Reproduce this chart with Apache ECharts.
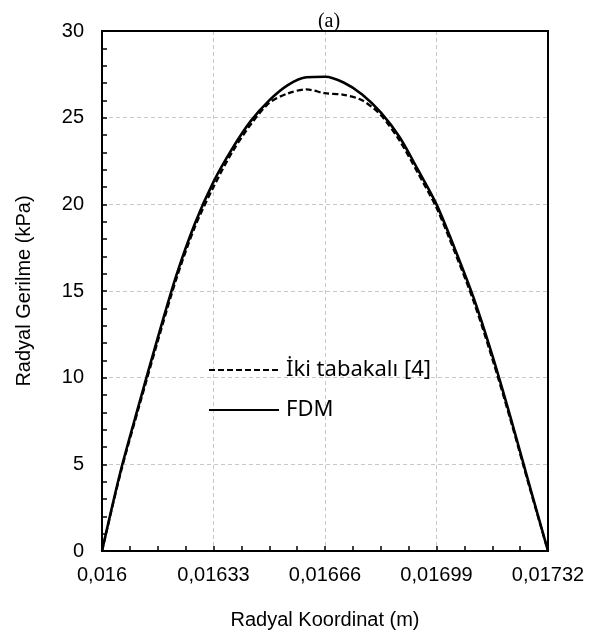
<!DOCTYPE html>
<html>
<head>
<meta charset="utf-8">
<script src="https://cdn.jsdelivr.net/npm/echarts@6/dist/echarts.min.js"></script>
<style>html,body{margin:0;padding:0;background:#fff}#c{width:589px;height:642px}</style>
</head>
<body>
<div id="c"></div>
<script>
// Radial coordinate (m)
const radialCoord = [0.016, 0.016055, 0.01611, 0.016165, 0.01622, 0.016275, 0.01633, 0.016385, 0.01644, 0.016495, 0.01655, 0.016605, 0.01666, 0.016715, 0.01677, 0.016825, 0.01688, 0.016935, 0.01699, 0.017045, 0.0171, 0.017155, 0.01721, 0.017265, 0.01732];
// Radial stress (kPa) - FDM
const fdmValues = [0, 4.6, 8.5, 12.3, 15.9, 18.9, 21.3, 23.2, 24.8, 26.0, 26.88, 27.33, 27.36, 27.03, 26.34, 25.3, 23.9, 22.0, 20.0, 17.4, 14.6, 11.3, 7.65, 3.8, 0];
// Radial stress (kPa) - two-layer [4]
const twoLayerValues = [0, 4.5, 8.35, 12.1, 15.7, 18.7, 21.0, 23.0, 24.6, 25.85, 26.4, 26.63, 26.41, 26.32, 26.0, 25.15, 23.7, 21.8, 19.8, 17.2, 14.4, 11.1, 7.5, 3.7, 0];
const seriesNames = ['İki tabakalı [4]', 'FDM'];
const xTicks = [0.016, 0.01633, 0.01666, 0.01699, 0.01732];
const yTicks = [0, 5, 10, 15, 20, 25, 30];

const chart = echarts.init(document.getElementById('c'), null, {renderer: 'canvas'});
const pair = (vals) => radialCoord.map((x, i) => [x, vals[i]]);
const ax = 'Liberation Sans, Arial, sans-serif';
const gridLine = {show: true, showMinLine: false, showMaxLine: false, lineStyle: {color: '#c8c8c8', type: [4, 3], width: 1}};

chart.setOption({
  animation: false,
  title: {
    text: '(a)', left: 324, top: 7, textAlign: 'center',
    textStyle: {fontFamily: 'Liberation Serif, Times New Roman, serif', fontWeight: 'normal', fontSize: 20, color: '#000'}
  },
  grid: {left: 102, right: 41, top: 31, bottom: 91, show: true, borderColor: '#000', borderWidth: 2, z: 5},
  legend: {
    orient: 'vertical', left: 203, top: 354, itemWidth: 70, itemHeight: 14, itemGap: 18,
    data: seriesNames,
    itemStyle: {color: 'transparent', borderColor: 'transparent', borderWidth: 0},
    textStyle: {fontFamily: 'Noto Sans, Open Sans, sans-serif', fontSize: 22, color: '#000', padding: [0, 0, 0, 2]}
  },
  xAxis: {
    type: 'value', min: xTicks[0], max: xTicks[xTicks.length - 1], interval: xTicks[1] - xTicks[0],
    name: 'Radyal Koordinat (m)', nameLocation: 'middle', nameGap: 59,
    nameTextStyle: {fontFamily: ax, fontSize: 20, color: '#000'},
    axisLine: {show: true, onZero: false, lineStyle: {color: '#000', width: 2}},
    axisTick: {show: true, inside: true, length: 5, lineStyle: {color: '#000', width: 1.5}},
    minorTick: {show: true, splitNumber: 4, length: 5, lineStyle: {color: '#000', width: 1.5}},
    splitLine: gridLine,
    axisLabel: {
      fontFamily: ax, fontSize: 20, color: '#000', margin: 14,
      formatter: v => parseFloat(v.toFixed(5)).toString().replace('.', ',')
    }
  },
  yAxis: {
    type: 'value', min: yTicks[0], max: yTicks[yTicks.length - 1], interval: yTicks[1] - yTicks[0],
    name: 'Radyal Gerilme (kPa)', nameLocation: 'middle', nameGap: 68,
    nameTextStyle: {fontFamily: ax, fontSize: 20, color: '#000'},
    axisLine: {show: true, lineStyle: {color: '#000', width: 2}},
    axisTick: {show: true, inside: true, length: 5, lineStyle: {color: '#000', width: 1.5}},
    minorTick: {show: true, splitNumber: 5, length: 5, lineStyle: {color: '#000', width: 1.5}},
    splitLine: gridLine,
    axisLabel: {fontFamily: ax, fontSize: 20, color: '#000', margin: 18}
  },
  series: [
    {
      name: seriesNames[0], type: 'line', data: pair(twoLayerValues), smooth: 0.3, symbol: 'none',
      lineStyle: {color: '#000', width: 2.3, type: [6, 3]}, itemStyle: {color: '#000'}, z: 3
    },
    {
      name: seriesNames[1], type: 'line', data: pair(fdmValues), smooth: 0.3, symbol: 'none',
      lineStyle: {color: '#000', width: 2.6, type: 'solid'}, itemStyle: {color: '#000'}, z: 2
    }
  ]
});
</script>
</body>
</html>
